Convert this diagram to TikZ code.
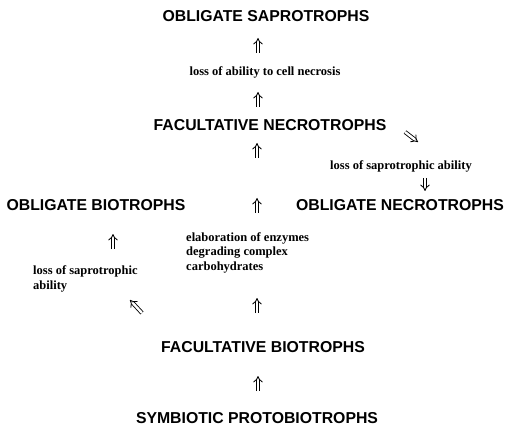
\documentclass[tikz,border=0pt]{standalone}
\usepackage{fontspec}
\setmainfont{Liberation Serif}
\newfontfamily\hdfont{Liberation Sans}
\usetikzlibrary{arrows.meta}
\begin{document}
\begin{tikzpicture}[x=1pt,y=-1pt,
  title/.style={font=\hdfont\bfseries\fontsize{15.8}{17}\selectfont, inner sep=0pt},
  note/.style={font=\bfseries\fontsize{12.5}{15}\selectfont, inner sep=0pt, align=left},
  dbl/.style={double, double distance=2.4pt, line width=0.85pt, -{Implies[length=4pt]}}]
\useasboundingbox (0,0) rectangle (507,428);
% main texts
\node[title] (os) at (266,16) {OBLIGATE SAPROTROPHS};
\node[note] (l1) at (265,72) {loss of ability to cell necrosis};
\node[title] (fn) at (270,125) {FACULTATIVE NECROTROPHS};
\node[note] (l2) at (401,166) {loss of saprotrophic ability};
\node[title] (on) at (400,205) {OBLIGATE NECROTROPHS};
\node[title] (ob) at (96,205) {OBLIGATE BIOTROPHS};
\node[note, anchor=west] (l3a) at (33,271) {loss of saprotrophic};
\node[note, anchor=west] (l3b) at (33,287) {ability};
\node[note, anchor=west] (e1) at (186,238) {elaboration of enzymes};
\node[note, anchor=west] (e2) at (186,253) {degrading complex};
\node[note, anchor=west] (e3) at (186,268) {carbohydrates};
\node[title] (fb) at (263,347) {FACULTATIVE BIOTROPHS};
\node[title] (sp) at (257,418) {SYMBIOTIC PROTOBIOTROPHS};
% arrow end points
\coordinate (a1s) at (258,53); \coordinate (a1e) at (258,38);
\coordinate (a2s) at (258,107); \coordinate (a2e) at (258,92);
\coordinate (a3s) at (257,158); \coordinate (a3e) at (257,143);
\coordinate (a4s) at (405,132); \coordinate (a4e) at (418,142);
\coordinate (a5s) at (425,178); \coordinate (a5e) at (425,191);
\coordinate (a6s) at (257,213); \coordinate (a6e) at (257,198);
\coordinate (a7s) at (113,249); \coordinate (a7e) at (113,234);
\coordinate (a8s) at (142,313); \coordinate (a8e) at (130,300);
\coordinate (a9s) at (257,313); \coordinate (a9e) at (257,298);
\coordinate (a10s) at (258,391); \coordinate (a10e) at (258,376);
\foreach \i in {1,...,10} {\draw[dbl] (a\i s) -- (a\i e);}
\end{tikzpicture}
\end{document}
